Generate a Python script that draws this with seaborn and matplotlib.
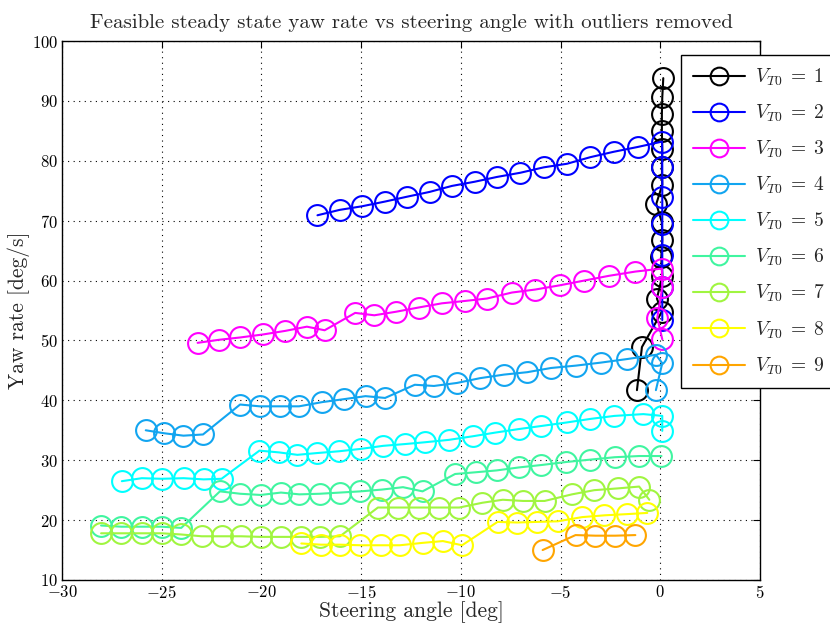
import numpy as np
import pandas as pd
import matplotlib
matplotlib.use("Agg")
import matplotlib.pyplot as plt
import seaborn as sns

# Steady state points per initial velocity setting (steering angle [deg], yaw rate [deg/s])
v1_steer = [-1.17, -0.92, 0.08, -0.17, 0.10, 0.05, 0.10, 0.08, -0.20, 0.10, 0.08, 0.10, 0.08, 0.08, 0.10, 0.15]
v1_yaw = [41.7, 48.9, 54.8, 57.0, 60.8, 63.9, 66.8, 69.7, 72.8, 76.0, 78.9, 81.9, 84.9, 87.8, 90.6, 93.8]

v2_steer = [-17.19, -16.08, -14.96, -13.79, -12.70, -11.57, -10.45, -9.31, -8.19, -7.02, -5.85, -4.68,
            -3.51, -2.34, -1.14, 0.09, 0.10, 0.10, 0.10, 0.10, 0.10, 0.10]
v2_yaw = [70.9, 71.8, 72.4, 73.2, 74.0, 74.8, 75.8, 76.5, 77.3, 78.0, 78.9, 79.5,
          80.6, 81.5, 82.3, 83.2, 79.0, 74.0, 69.5, 64.3, 59.0, 53.4]

v3_steer = [-23.2, -22.15, -21.06, -19.92, -18.8, -17.72, -16.83, -15.3, -14.34, -13.24, -12.12, -10.95,
            -9.78, -8.69, -7.44, -6.27, -5.05, -3.81, -2.56, -1.25, 0.08, 0.10, -0.15, 0.10]
v3_yaw = [49.6, 50.1, 50.5, 51.0, 51.6, 52.3, 51.7, 54.6, 54.2, 54.8, 55.5, 56.2,
          56.6, 57.0, 58.0, 58.5, 59.2, 60.0, 60.8, 61.5, 62.0, 58.9, 53.8, 50.2]

v4_steer = [-25.8, -24.87, -23.91, -22.93, -21.07, -20.09, -19.09, -18.11, -16.96, -15.85, -14.78, -13.8,
            -12.31, -11.35, -10.2, -9.04, -7.83, -6.67, -5.48, -4.22, -2.98, -1.65, -0.22, 0.10, -0.22]
v4_yaw = [35.0, 34.5, 34.1, 34.3, 39.3, 39.0, 39.0, 39.0, 39.7, 40.2, 40.7, 40.4,
          42.6, 42.4, 42.9, 43.7, 44.3, 44.7, 45.4, 45.8, 46.3, 46.9, 47.6, 46.2, 41.7]

v5_steer = [-27.0, -26.0, -25.0, -23.9, -22.9, -22.0, -20.1, -19.1, -18.2, -17.2, -16.1, -15.0, -13.9,
            -12.8, -11.8, -10.6, -9.4, -8.3, -7.1, -6.0, -4.7, -3.5, -2.3, -0.85, 0.10, 0.10]
v5_yaw = [26.5, 27.0, 26.9, 27.0, 26.8, 26.9, 31.6, 31.3, 30.9, 31.2, 31.5, 31.9, 32.4,
          32.7, 33.0, 33.4, 34.0, 34.6, 35.2, 35.7, 36.3, 36.9, 37.4, 37.7, 37.4, 34.9]

v6_steer = [-28.04, -27.02, -26.0, -25.0, -24.02, -22.08, -21.06, -20.04, -19.02, -18.1, -17.08, -16.06,
            -15.04, -13.96, -12.9, -11.92, -10.29, -9.22, -8.2, -7.08, -5.96, -4.73, -3.51, -2.29, -1.06, 0.06]
v6_yaw = [19.1, 18.9, 18.9, 18.9, 18.7, 24.8, 24.4, 24.2, 24.6, 24.3, 24.4, 24.6,
          24.8, 25.1, 25.5, 24.8, 27.7, 28.0, 28.3, 28.8, 29.2, 29.7, 30.1, 30.5, 30.7, 30.7]

v7_steer = [-28.04, -27.02, -26.0, -25.0, -24.02, -23.0, -21.98, -21.02, -20.04, -19.02, -18.0, -17.04,
            -16.06, -14.16, -13.14, -12.12, -11.1, -10.08, -8.92, -7.9, -6.88, -5.8, -4.43, -3.31,
            -2.12, -1.06, -0.55]
v7_yaw = [17.8, 17.8, 17.8, 17.8, 17.6, 17.3, 17.3, 17.3, 17.2, 17.2, 17.2, 17.2,
          17.3, 22.1, 22.1, 22.1, 22.1, 22.1, 22.9, 23.4, 23.2, 23.2, 24.3, 25.0,
          25.3, 25.6, 23.4]

v8_steer = [-18.0, -17.02, -16.06, -15.04, -14.02, -13.06, -11.92, -10.9, -9.94, -8.16, -7.18, -6.2,
            -5.14, -3.92, -2.8, -1.67, -0.65]
v8_yaw = [16.1, 15.9, 15.9, 15.8, 15.8, 15.8, 16.2, 16.5, 15.8, 19.7, 19.6, 19.7,
          19.8, 20.5, 20.8, 21.0, 21.2]

v9_steer = [-5.9, -4.25, -3.25, -2.25, -1.25]
v9_yaw = [15.0, 17.5, 17.4, 17.4, 17.5]

steer_sets = [v1_steer, v2_steer, v3_steer, v4_steer, v5_steer, v6_steer, v7_steer, v8_steer, v9_steer]
yaw_sets = [v1_yaw, v2_yaw, v3_yaw, v4_yaw, v5_yaw, v6_yaw, v7_yaw, v8_yaw, v9_yaw]
velocity_ids = [1, 2, 3, 4, 5, 6, 7, 8, 9]
series_colors = ["#000000", "#0000ff", "#ff00ff", "#12a5f0", "#00ffff",
                 "#40f5a0", "#a0f540", "#ffff00", "#ffa500"]

x_ticks = [-30, -25, -20, -15, -10, -5, 0, 5]
y_ticks = [10, 20, 30, 40, 50, 60, 70, 80, 90, 100]

sns.set_theme(style="white")
plt.rcParams["font.family"] = "serif"
plt.rcParams["font.serif"] = ["cmr10", "DejaVu Serif"]
plt.rcParams["mathtext.fontset"] = "cm"
plt.rcParams["axes.formatter.use_mathtext"] = True
plt.rcParams["axes.unicode_minus"] = True

fig = plt.figure(figsize=(8.3, 6.23), dpi=100)
ax = fig.add_axes([62 / 830, 1 - 580 / 623, 698 / 830, 539 / 623])

for vid, xs, ys, col in zip(velocity_ids, steer_sets, yaw_sets, series_colors):
    df = pd.DataFrame({"steer": xs, "yaw": ys})
    sns.lineplot(data=df, x="steer", y="yaw", sort=False, estimator=None, ax=ax,
                 color=col, linewidth=1.5, marker="o", markersize=15,
                 markerfacecolor="none", markeredgecolor=col, markeredgewidth=1.5,
                 label=r"$V_{T0}\;=\;%d$" % vid)

ax.set_xlim(-30, 5)
ax.set_ylim(10, 100)
ax.set_xticks(x_ticks)
ax.set_yticks(y_ticks)
ax.tick_params(direction="in", top=True, right=True, length=5, width=0.8,
               labelsize=12, colors="black", pad=3)
ax.grid(True, linestyle=(0, (1, 4)), color="black", linewidth=0.8)
for sp in ax.spines.values():
    sp.set_color("black")
    sp.set_linewidth(1.0)

ax.set_xlabel("Steering angle [deg]", fontsize=15.5, labelpad=0)
ax.set_ylabel("Yaw rate [deg/s]", fontsize=15.5, labelpad=1)
ax.set_title("Feasible steady state yaw rate vs steering angle with outliers removed",
             fontsize=15, pad=9)

leg = ax.legend(loc="upper left", bbox_to_anchor=(681 / 830, 1 - 55 / 623),
                bbox_transform=fig.transFigure, fontsize=14, frameon=True,
                fancybox=False, edgecolor="black", framealpha=1.0, markerscale=0.85,
                handlelength=2.7, labelspacing=0.76, borderpad=0.6, handletextpad=0.5,
                borderaxespad=0.0)
leg.get_frame().set_linewidth(1.0)

fig.savefig("out.png", dpi=100)
